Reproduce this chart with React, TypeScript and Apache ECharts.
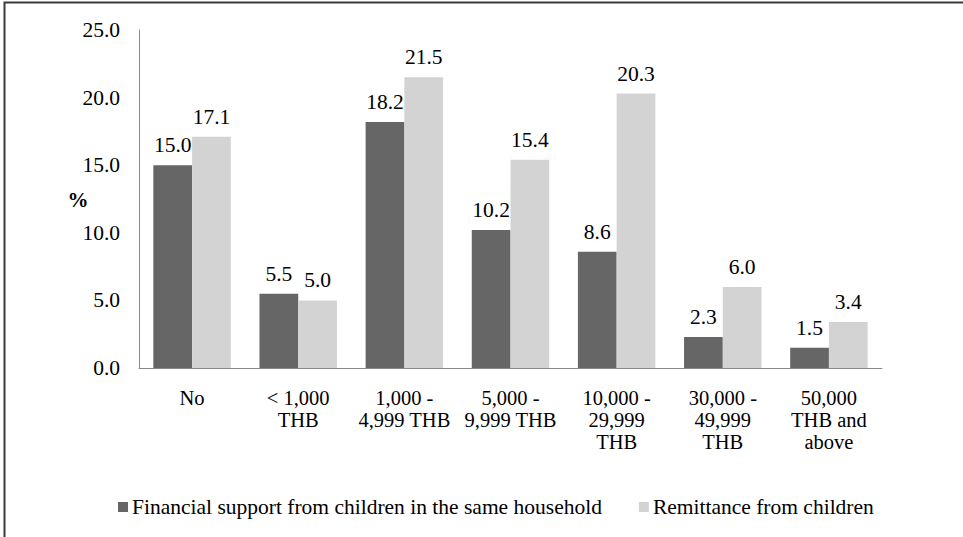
import React, { useEffect, useRef } from "react";
import * as echarts from "echarts";

const categories = [
  "No",
  "< 1,000\nTHB",
  "1,000 -\n4,999 THB",
  "5,000 -\n9,999 THB",
  "10,000 -\n29,999\nTHB",
  "30,000 -\n49,999\nTHB",
  "50,000\nTHB and\nabove",
];
const seriesNames = [
  "Financial support from children in the same household",
  "Remittance from children",
];
const householdSupport = [15.0, 5.5, 18.2, 10.2, 8.6, 2.3, 1.5];
const remittance = [17.1, 5.0, 21.5, 15.4, 20.3, 6.0, 3.4];

const FONT = "Liberation Serif";
const FS = 21.5;

export default function App() {
  const ref = useRef<HTMLDivElement>(null);
  useEffect(() => {
    if (!ref.current) return;
    const chart = echarts.init(ref.current, null, { renderer: "svg" });
    const labelCfg = {
      show: true,
      position: "top",
      distance: 9,
      fontFamily: FONT,
      fontSize: FS,
      color: "#000",
      formatter: (p: any) => Number(p.value).toFixed(1),
    };
    chart.setOption({
      animation: false,
      backgroundColor: "#fff",
      textStyle: { fontFamily: FONT },
      grid: { left: 139, right: 81, top: 30, bottom: 169, containLabel: false },
      legend: {
        left: 113,
        top: 491,
        itemWidth: 10,
        itemHeight: 10,
        itemGap: 37,
        icon: "rect",
        textStyle: { fontFamily: FONT, fontSize: FS, color: "#000", padding: [0, 0, 0, -1] },
        data: seriesNames,
      },
      graphic: [
        {
          type: "rect",
          shape: { x: 4.5, y: 2.5, width: 1000, height: 600 },
          style: { fill: "none", stroke: "#3a3a3a", lineWidth: 2 },
          silent: true,
        },
        {
          type: "text",
          x: 78,
          y: 200,
          style: {
            text: "%",
            fontFamily: FONT,
            fontSize: 21,
            fontWeight: "bold",
            fill: "#000",
            align: "center",
            verticalAlign: "middle",
          },
        },
      ],
      xAxis: {
        type: "category",
        data: categories,
        axisLine: { show: true, lineStyle: { color: "#898989", width: 1 } },
        axisTick: { show: false },
        axisLabel: {
          interval: 0,
          margin: 19,
          fontFamily: FONT,
          fontSize: 20.5,
          color: "#000",
          lineHeight: 22,
        },
      },
      yAxis: {
        type: "value",
        min: 0,
        max: 25,
        interval: 5,
        axisLine: { show: true, lineStyle: { color: "#898989", width: 1 } },
        axisTick: { show: false },
        splitLine: { show: false },
        axisLabel: {
          margin: 19,
          fontFamily: FONT,
          fontSize: FS,
          color: "#000",
          formatter: (v: number) => v.toFixed(1),
        },
      },
      series: [
        {
          name: seriesNames[0],
          type: "bar",
          data: householdSupport,
          itemStyle: { color: "#666666" },
          barGap: "0%",
          barCategoryGap: "27%",
          label: labelCfg,
        },
        {
          name: seriesNames[1],
          type: "bar",
          data: remittance,
          itemStyle: { color: "#d3d3d3" },
          barGap: "0%",
          barCategoryGap: "27%",
          label: labelCfg,
        },
      ],
    });
    return () => chart.dispose();
  }, []);
  return (
    <div
      ref={ref}
      style={{ position: "fixed", left: 0, top: 0, width: 963, height: 537, background: "#fff" }}
    />
  );
}
